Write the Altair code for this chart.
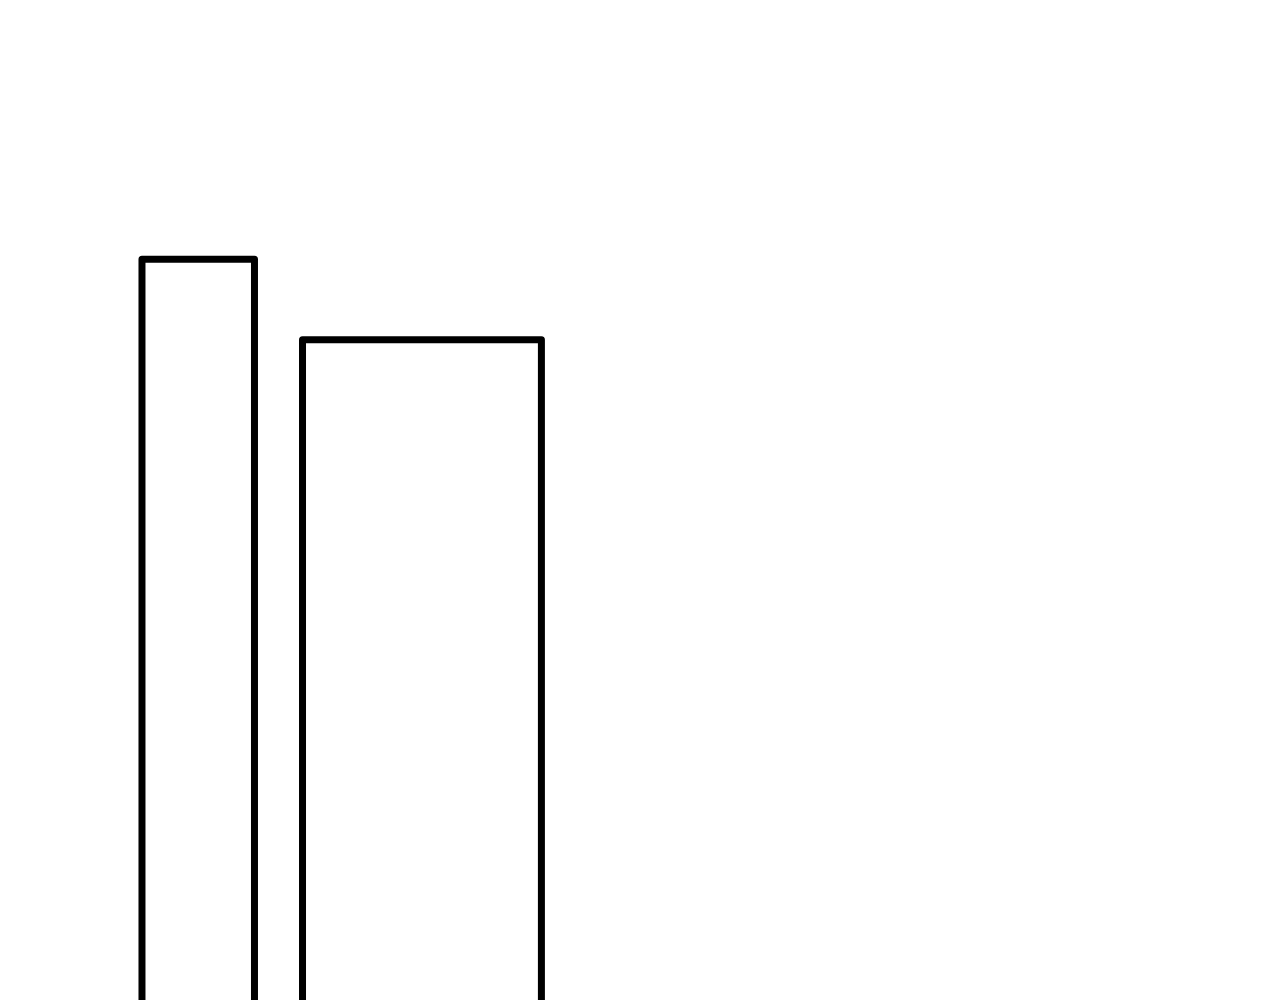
import altair as alt
import pandas as pd

# Two outlined columns (left/right edges and heights in chart units)
bar_start = [10.6, 23.3]
bar_end = [19.5, 42.2]
bar_height = [77.2, 69.9]
bar_base = [0, 0]

df = pd.DataFrame({
    "start": bar_start,
    "end": bar_end,
    "height": bar_height,
    "base": bar_base,
})

chart = alt.Chart(df).mark_bar(
    fill="white",
    stroke="black",
    strokeWidth=7,
    strokeJoin="round",
    clip=True,
).encode(
    x=alt.X("start:Q", scale=alt.Scale(domain=[0, 100], nice=False, zero=False), axis=None),
    x2="end:Q",
    y=alt.Y("height:Q", scale=alt.Scale(domain=[10, 100], nice=False, zero=False), axis=None),
    y2="base:Q",
).properties(
    width=1264,
    height=992,
    background="white",
    padding=0,
    autosize=alt.AutoSizeParams(type="none"),
).configure_view(stroke=None)

chart.save("out.html", embed_options={"renderer": "svg", "actions": False})
